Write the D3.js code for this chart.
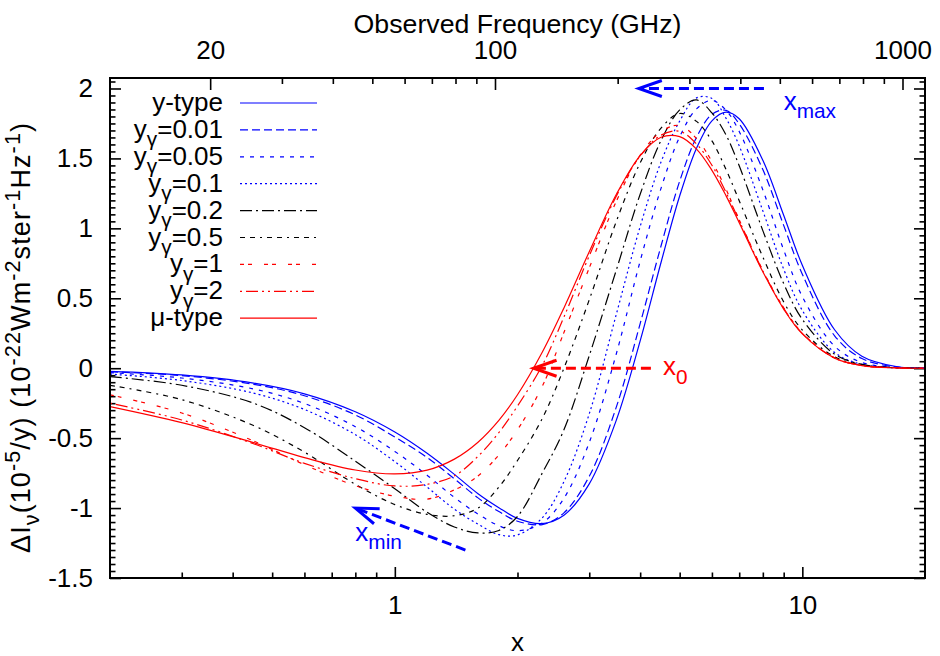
<!DOCTYPE html>
<html><head><meta charset="utf-8">
<script src="https://cdn.jsdelivr.net/npm/d3@7"></script>
<style>
html,body{margin:0;padding:0;background:#fff;}
svg{display:block;font-family:"Liberation Sans",Arial,Helvetica,sans-serif;}
</style></head><body>
<svg id="chart" width="940" height="656"></svg>
<script>
// ---------- data ----------
const xValues = [0.2,0.3,0.45,0.6,0.8,1.0,1.2,1.4,1.6,1.8,2.0,2.3,2.6,3.0,3.5,4.0,4.5,5.0,5.5,6.0,6.5,7.0,8.0,9.0,10,12,14,17,20];

const yType = [-0.022,-0.048,-0.106,-0.183,-0.311,-0.456,-0.608,-0.759,-0.897,-0.997,-1.074,-1.111,-1.051,-0.827,-0.367,0.196,0.756,1.231,1.573,1.769,1.831,1.784,1.487,1.094,0.736,0.275,0.086,0.012,0.001];
const yg001 = [-0.025,-0.053,-0.115,-0.197,-0.334,-0.492,-0.638,-0.791,-0.927,-1.025,-1.094,-1.118,-1.034,-0.773,-0.273,0.319,0.874,1.337,1.651,1.815,1.844,1.747,1.420,1.021,0.672,0.232,0.069,0.009,0.001];
const yg005 = [-0.032,-0.070,-0.148,-0.252,-0.418,-0.595,-0.765,-0.924,-1.043,-1.126,-1.162,-1.106,-0.930,-0.531,0.109,0.766,1.286,1.654,1.854,1.915,1.844,1.693,1.275,0.846,0.512,0.157,0.041,0.005,0.001];
const yg01  = [-0.042,-0.088,-0.178,-0.295,-0.475,-0.668,-0.850,-1.008,-1.115,-1.190,-1.192,-1.070,-0.811,-0.326,0.392,1.013,1.474,1.767,1.933,1.929,1.786,1.590,1.125,0.708,0.413,0.113,0.027,0.003,0.000];
const yg02  = [-0.060,-0.122,-0.250,-0.425,-0.665,-0.862,-1.030,-1.135,-1.178,-1.160,-1.060,-0.750,-0.440,0.090,0.707,1.244,1.628,1.847,1.918,1.825,1.667,1.447,0.984,0.605,0.349,0.100,0.027,0.003,0.000];
const yg05  = [-0.122,-0.225,-0.410,-0.600,-0.830,-0.975,-1.045,-1.055,-1.000,-0.850,-0.660,-0.360,0.000,0.489,1.054,1.468,1.717,1.821,1.765,1.625,1.420,1.198,0.795,0.474,0.273,0.081,0.025,0.003,0.000];
const yg1   = [-0.190,-0.320,-0.520,-0.690,-0.840,-0.915,-0.936,-0.870,-0.770,-0.620,-0.440,-0.130,0.256,0.717,1.197,1.523,1.691,1.736,1.642,1.478,1.278,1.062,0.700,0.432,0.252,0.074,0.020,0.002,0.000];
const yg2   = [-0.250,-0.370,-0.540,-0.680,-0.790,-0.842,-0.830,-0.770,-0.630,-0.460,-0.270,0.020,0.366,0.804,1.233,1.518,1.666,1.694,1.603,1.451,1.256,1.055,0.695,0.428,0.249,0.073,0.019,0.003,0.000];
const muType = [-0.274,-0.389,-0.532,-0.639,-0.728,-0.756,-0.729,-0.650,-0.529,-0.373,-0.190,0.114,0.431,0.833,1.245,1.520,1.651,1.656,1.567,1.415,1.232,1.041,0.689,0.423,0.245,0.072,0.019,0.002,0.000];

const seriesLabels = ["y-type","y_{γ}=0.01","y_{γ}=0.05","y_{γ}=0.1","y_{γ}=0.2","y_{γ}=0.5","y_{γ}=1","y_{γ}=2","μ-type"];

const yTickValues = [-1.5,-1,-0.5,0,0.5,1,1.5,2];
const xMajorTicks = [1,10];
const xMinorTicks = [0.3,0.4,0.5,0.6,0.7,0.8,0.9,2,3,4,5,6,7,8,9];
const freqMajorTicks = [20,100,1000];
const freqMinorTicks = [30,40,50,60,70,80,90,200,300,400,500,600,700,800,900];
const ghzPerX = 56.78;   // observed frequency (GHz) per unit of x

// ---------- layout ----------
const FONT = '"Liberation Sans",Arial,Helvetica,sans-serif';
const FS = 26;
const M = {left:110, right:925, top:78, bottom:578};
const BLUE = "#0000ff", RED = "#ff0000", BLACK = "#000000";

const svg = d3.select("#chart");
svg.append("rect").attr("width",940).attr("height",656).attr("fill","#fff");

const x = d3.scaleLog().domain([0.2,20]).range([M.left,M.right]);
const xTop = d3.scaleLog().domain([0.2*ghzPerX,20*ghzPerX]).range([M.left,M.right]);
const y = d3.scaleLinear().domain([-1.5,2.075]).range([M.bottom,M.top]);

function parseRich(s){
  const parts=[]; const re=/([_^])\{([^}]*)\}/g; let last=0, mm;
  while((mm=re.exec(s))){ if(mm.index>last) parts.push([s.slice(last,mm.index),""]);
    parts.push([mm[2], mm[1]==="_"?"sub":"sup"]); last=re.lastIndex; }
  if(last<s.length) parts.push([s.slice(last),""]);
  return parts;
}
function rich(textSel, str, size, supShift){
  let cur=0; const up = supShift===undefined ? 0.4 : supShift;
  parseRich(str).forEach(([t,mode])=>{
    const target = mode==="sub" ? 0.32*size : mode==="sup" ? -up*size : 0;
    const ts = textSel.append("tspan").text(t).attr("dy", target-cur);
    if(mode) ts.attr("font-size", size*0.8);
    cur = target;
  });
  return textSel;
}
function styleAxis(g){
  g.attr("font-family",FONT).attr("font-size",FS);
  g.select(".domain").remove();
  g.selectAll(".tick line").attr("stroke","#000").attr("stroke-width",1.6);
  g.selectAll(".tick text").attr("fill","#000");
}

// ---------- axes ----------
svg.append("g").attr("transform",`translate(0,${M.bottom})`)
  .call(d3.axisBottom(x).tickValues(xMinorTicks).tickSize(-5.5).tickSizeOuter(0).tickFormat(""))
  .call(styleAxis);
svg.append("g").attr("transform",`translate(0,${M.bottom})`)
  .call(d3.axisBottom(x).tickValues(xMajorTicks).tickSize(-11).tickSizeOuter(0).tickPadding(18).tickFormat(d=>String(d)))
  .call(styleAxis);

svg.append("g").attr("transform",`translate(0,${M.top})`)
  .call(d3.axisTop(xTop).tickValues(freqMinorTicks).tickSize(-6).tickSizeOuter(0).tickFormat(""))
  .call(styleAxis);
svg.append("g").attr("transform",`translate(0,${M.top})`)
  .call(d3.axisTop(xTop).tickValues(freqMajorTicks).tickSize(-12).tickSizeOuter(0).tickPadding(19).tickFormat(d=>String(d)))
  .call(styleAxis);

const yMinor = y.ticks(72).filter(v=>!yTickValues.some(t=>Math.abs(t-v)<1e-6));
svg.append("g").attr("transform",`translate(${M.left},0)`)
  .call(d3.axisLeft(y).tickValues(yMinor).tickSize(-5.5).tickSizeOuter(0).tickFormat(""))
  .call(styleAxis);
svg.append("g").attr("transform",`translate(${M.left},0)`)
  .call(d3.axisLeft(y).tickValues(yTickValues).tickSize(-11).tickSizeOuter(0).tickPadding(17).tickFormat(d=>String(d)))
  .call(styleAxis);
svg.append("g").attr("transform",`translate(${M.right},0)`)
  .call(d3.axisRight(y).tickValues(yMinor).tickSize(-5.5).tickSizeOuter(0).tickFormat(""))
  .call(styleAxis);
svg.append("g").attr("transform",`translate(${M.right},0)`)
  .call(d3.axisRight(y).tickValues(yTickValues).tickSize(-11).tickSizeOuter(0).tickFormat(""))
  .call(styleAxis);

// ---------- axis titles ----------
svg.append("text").attr("x",(M.left+M.right)/2).attr("y",33).attr("text-anchor","middle")
  .attr("font-size",26.7).text("Observed Frequency (GHz)");
svg.append("text").attr("x",(M.left+M.right)/2).attr("y",651).attr("text-anchor","middle")
  .attr("font-size",FS).text("x");
rich(svg.append("text").attr("transform","translate(30,338) rotate(-90)").attr("text-anchor","middle")
  .attr("font-size",27).attr("textLength",430).attr("lengthAdjust","spacing"),
  "ΔI_{ν}(10^{-5}/y) (10^{-22}Wm^{-2}ster^{-1}Hz^{-1})", 27, 0.36);

// ---------- curves ----------
const seriesValues = [yType,yg001,yg005,yg01,yg02,yg05,yg1,yg2,muType];
const seriesStyle = [
  {color:BLUE, dash:null},
  {color:BLUE, dash:"8,4"},
  {color:BLUE, dash:"4,6"},
  {color:BLUE, dash:"2,3"},
  {color:BLACK, dash:"12,4,2,4"},
  {color:BLACK, dash:"5,5,5,5,2,5"},
  {color:RED, dash:"4,4,4,12"},
  {color:RED, dash:"2,4,12,4,2,4"},
  {color:RED, dash:null}
];

svg.append("clipPath").attr("id","plotclip").append("rect")
  .attr("x",M.left).attr("y",M.top).attr("width",M.right-M.left).attr("height",M.bottom-M.top);

const line = d3.line().x((d,i)=>x(xValues[i])).y(d=>y(d)).curve(d3.curveCatmullRom.alpha(0.5));
const gCurves = svg.append("g").attr("clip-path","url(#plotclip)");

// legend
const legX1 = 240, legX2 = 317, legTextX = 223, legY0 = 103, legDy = 26.9;

seriesValues.forEach((vals,i)=>{
  const st = seriesStyle[i];
  gCurves.append("path").datum(vals).attr("d",line)
    .attr("fill","none").attr("stroke",st.color).attr("stroke-width",1.2)
    .attr("stroke-dasharray",st.dash);
  const ly = legY0 + i*legDy;
  svg.append("line").attr("x1",legX1).attr("x2",legX2).attr("y1",ly).attr("y2",ly)
    .attr("stroke",st.color).attr("stroke-width",1.2).attr("stroke-dasharray",st.dash);
  rich(svg.append("text").attr("x",legTextX).attr("y",ly+8).attr("text-anchor","end").attr("font-size",FS),
    seriesLabels[i], FS);
});

// ---------- frame ----------
svg.append("rect").attr("x",M.left).attr("y",M.top).attr("width",M.right-M.left).attr("height",M.bottom-M.top)
  .attr("fill","none").attr("stroke","#000").attr("stroke-width",2);

// ---------- annotations ----------
function arrow(x1,y1,x2,y2,color){
  const p1=[x(x1),y(y1)], p2=[x(x2),y(y2)];
  svg.append("line").attr("x1",p1[0]).attr("y1",p1[1]).attr("x2",p2[0]).attr("y2",p2[1])
    .attr("stroke",color).attr("stroke-width",3).attr("stroke-dasharray","10,5");
  const ang=Math.atan2(p1[1]-p2[1],p1[0]-p2[0]), L=23, Wd=8;
  const bx=p2[0]+L*Math.cos(ang), by=p2[1]+L*Math.sin(ang);
  const nx=-Math.sin(ang)*Wd, ny=Math.cos(ang)*Wd;
  svg.append("path").attr("d",`M${bx+nx},${by+ny}L${p2[0]},${p2[1]}L${bx-nx},${by-ny}`)
    .attr("fill","none").attr("stroke",color).attr("stroke-width",3);
}
arrow(8.05,2.0,3.97,2.0,BLUE);
arrow(4.25,0,2.19,0,RED);
arrow(1.49,-1.30,0.80,-1.00,BLUE);

rich(svg.append("text").attr("x",x(9.0)).attr("y",y(1.846)).attr("fill",BLUE).attr("font-size",FS),"x_{max}",FS);
rich(svg.append("text").attr("x",x(4.55)).attr("y",y(-0.05)).attr("fill",RED).attr("font-size",FS),"x_{0}",FS);
rich(svg.append("text").attr("x",x(0.80)).attr("y",y(-1.235)).attr("fill",BLUE).attr("font-size",FS),"x_{min}",FS);
</script>
</body></html>
